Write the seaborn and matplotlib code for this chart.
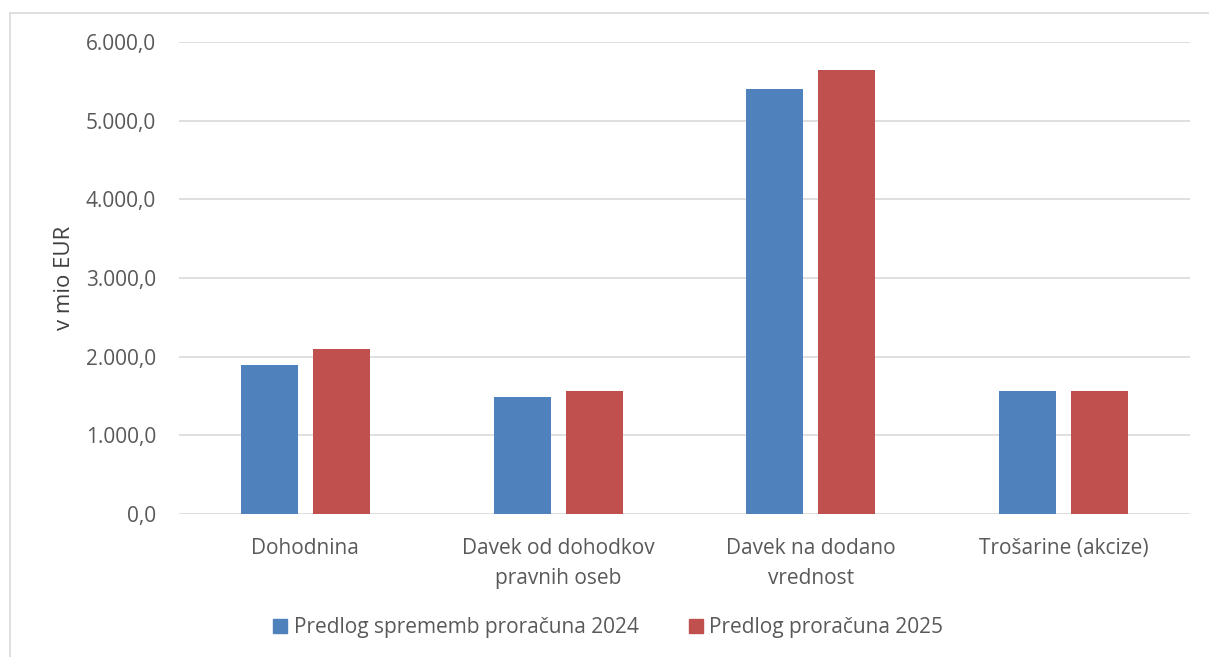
import pandas as pd
import seaborn as sns
import matplotlib.pyplot as plt
from matplotlib.lines import Line2D
from matplotlib.ticker import FuncFormatter

categories = ['Dohodnina', 'Davek od dohodkov\npravnih oseb',
              'Davek na dodano\nvrednost', 'Trošarine (akcize)']
series_names = ['Predlog sprememb proračuna 2024', 'Predlog proračuna 2025']
values_2024 = [1899, 1486, 5398, 1558]
values_2025 = [2103, 1558, 5645, 1558]

df = pd.DataFrame({
    'kategorija': categories * 2,
    'serija': [series_names[0]] * 4 + [series_names[1]] * 4,
    'vrednost': values_2024 + values_2025,
})

sns.set_style('white')
plt.rcParams['font.family'] = ['Open Sans', 'DejaVu Sans']

fig = plt.figure(figsize=(12.09, 6.57), dpi=100)
ax = fig.add_axes([179 / 1209, 1 - 514 / 657, (1190 - 179) / 1209, (514 - 42) / 657])

sns.barplot(data=df, x='kategorija', y='vrednost', hue='serija',
            palette=['#4F81BD', '#C0504D'], width=0.57, gap=0.21,
            saturation=1, linewidth=0, ax=ax, zorder=3)

ax.set_ylim(0, 6000)
ax.set_yticks(range(0, 6001, 1000))
ax.yaxis.set_major_formatter(FuncFormatter(
    lambda v, p: f'{v:,.1f}'.replace(',', 'X').replace('.', ',').replace('X', '.')))
ax.grid(axis='y', color='#D9D9D9', linewidth=1.2, zorder=0)
for s in ax.spines.values():
    s.set_visible(False)
ax.tick_params(axis='both', length=0, labelsize=15, colors='#595959')
ax.tick_params(axis='y', pad=16.5)
ax.tick_params(axis='x', pad=17)
for t in ax.get_xticklabels():
    t.set_linespacing(1.6)
ax.set_xlabel('')
ax.set_ylabel('v mio EUR', fontsize=16, color='#404040')
ax.yaxis.set_label_coords(-0.103, 0.5)

handles = [Line2D([], [], marker='s', linestyle='', markersize=10,
                  color=c) for c in ['#4F81BD', '#C0504D']]
ax.legend(handles, series_names, loc='center', bbox_to_anchor=(0.503, 1 - 628 / 657),
          bbox_transform=fig.transFigure, ncol=2, frameon=False, fontsize=15,
          handlelength=0.7, handletextpad=0.3, columnspacing=2.4,
          labelcolor='#595959')

# outer chart border (top and left only visible)
fig.add_artist(Line2D([10 / 1209, 1], [1 - 13 / 657] * 2, color='#D9D9D9', lw=1.2))
fig.add_artist(Line2D([10 / 1209] * 2, [0, 1 - 13 / 657], color='#D9D9D9', lw=1.2))

fig.savefig('out.png', dpi=100)
